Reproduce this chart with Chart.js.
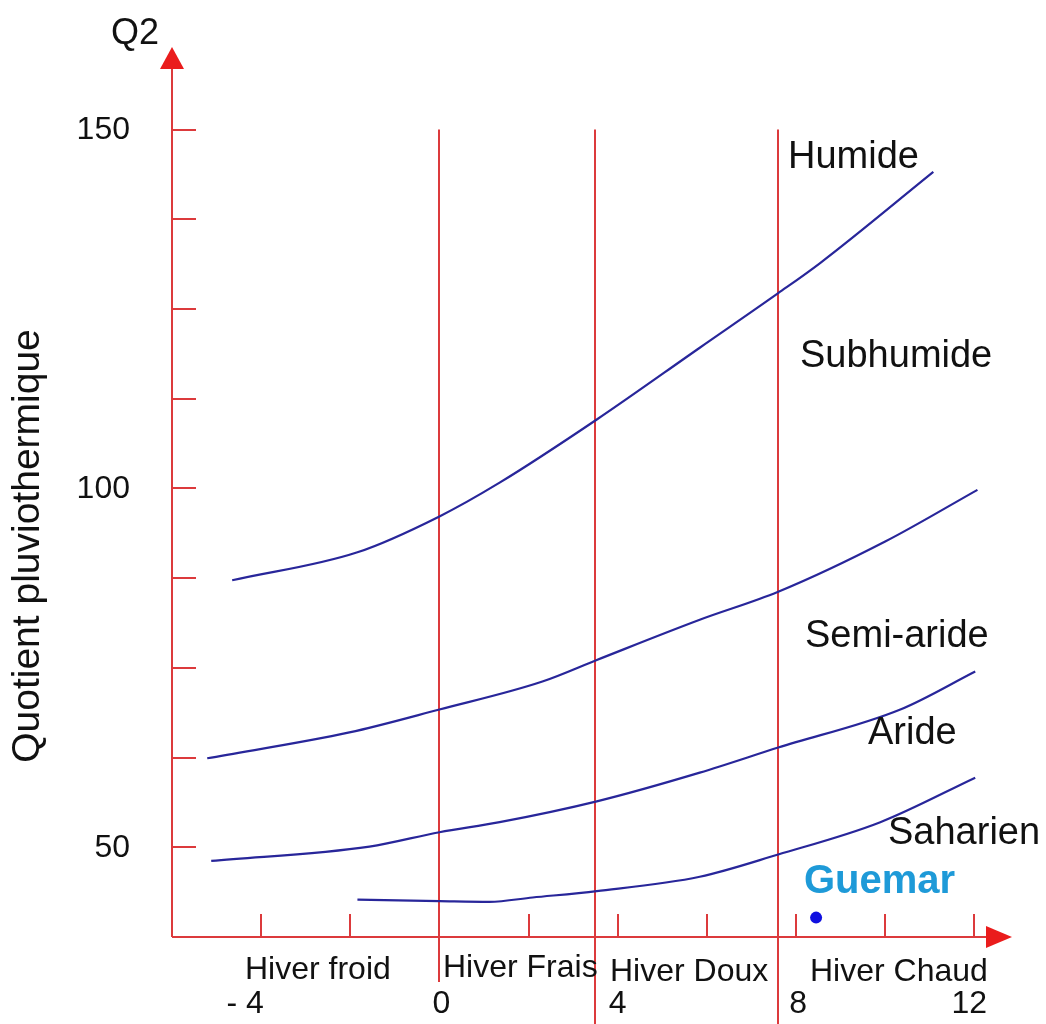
<!DOCTYPE html>
<html>
<head>
<meta charset="utf-8">
<script src="https://cdn.jsdelivr.net/npm/chart.js@4.4.1/dist/chart.umd.min.js"></script>
<style>
  html, body { margin: 0; padding: 0; background: #fff; overflow: hidden; }
  #wrap { width: 1046px; height: 1024px; position: relative; }
</style>
</head>
<body>
<div id="wrap"><canvas id="chart"></canvas></div>
<script>
// --- DATA ---
// limit curves of the Emberger climagram (x = m, winter minimum temperature; y = Q2)
const limitHumideX = [-4.65, -1.84, 0, 1.35, 3.53, 5.84, 7.6, 8.54, 11.08];
const limitHumideY = [87.2, 91.1, 96.1, 100.8, 109.6, 119.6, 127.2, 131.4, 144.1];

const limitSemiAridX = [-5.21, -2.02, 0, 2.31, 3.53, 5.84, 7.6, 10.0, 12.07];
const limitSemiAridY = [62.4, 66.0, 69.2, 73.1, 76.1, 81.7, 85.6, 92.6, 99.8];

const limitAridX = [-5.12, -1.57, 0, 1.35, 3.53, 5.84, 7.6, 10.34, 12.02];
const limitAridY = [48.1, 50.1, 52.1, 53.5, 56.4, 60.4, 63.9, 69.2, 74.5];

const limitSaharaX = [-1.84, 0, 1.12, 2.09, 3.53, 5.84, 7.6, 9.89, 12.02];
const limitSaharaY = [42.7, 42.5, 42.4, 43.0, 43.9, 45.9, 49.0, 53.5, 59.7];

const stationName = 'Guemar';
const stationM = 8.45;
const stationQ2 = 40.2;

const winterBounds = [0, 3.5, 7.6];
const winterNames = ['Hiver froid', 'Hiver Frais', 'Hiver Doux', 'Hiver Chaud'];
const zoneNames = ['Humide', 'Subhumide', 'Semi-aride', 'Aride', 'Saharien'];

const xTickValues = [-4, -2, 0, 2, 4, 6, 8, 10, 12];
const xLabelValues = [-4, 0, 4, 8, 12];
const xLabelTexts = ['- 4', '0', '4', '8', '12'];
const yTickValues = [50, 62.5, 75, 87.5, 100, 112.5, 125, 137.5, 150];
const yLabelValues = [50, 100, 150];

// --- STYLE ---
const RED = '#dc3a3c';
const ARROW = '#ea1c1c';
const BLUE = '#28269a';
const FONT = "'Liberation Sans', Arial, sans-serif";

const pts = (xs, ys) => xs.map((x, i) => ({ x, y: ys[i] }));
const curve = (label, xs, ys) => ({
  label, data: pts(xs, ys), showLine: true, borderColor: BLUE, borderWidth: 2.2,
  pointRadius: 0, cubicInterpolationMode: 'monotone', fill: false
});

// where each text sits (pixels)
const zoneLabelPos = [[788, 158], [800, 357], [805, 637], [868, 734], [888, 834]];
const winterLabelPos = [[245, 970], [443, 968], [610, 972], [810, 972]];

const axesPlugin = {
  id: 'climagram',
  beforeDatasetsDraw(chart) {
    const { ctx, chartArea: a, scales: { x, y } } = chart;
    ctx.save();
    // winter boundaries
    ctx.strokeStyle = RED;
    ctx.lineWidth = 2;
    winterBounds.forEach((b, i) => {
      const px = Math.round(x.getPixelForValue(b));
      ctx.beginPath();
      ctx.moveTo(px, y.getPixelForValue(150));
      ctx.lineTo(px, i === 0 ? a.bottom + 45 : 1024);
      ctx.stroke();
    });
    ctx.restore();
  },
  afterDatasetsDraw(chart) {
    const { ctx, chartArea: a, scales: { x, y } } = chart;
    const x0 = a.left, y0 = a.bottom;
    ctx.save();
    ctx.strokeStyle = RED;
    ctx.lineWidth = 2;
    // y axis
    ctx.beginPath();
    ctx.moveTo(x0, y0);
    ctx.lineTo(x0, a.top + 20);
    // x axis
    ctx.moveTo(x0, y0);
    ctx.lineTo(a.right - 24, y0);
    ctx.stroke();
    // ticks
    ctx.beginPath();
    yTickValues.forEach(v => {
      const py = Math.round(y.getPixelForValue(v));
      ctx.moveTo(x0, py);
      ctx.lineTo(x0 + 24, py);
    });
    xTickValues.forEach(v => {
      const px = Math.round(x.getPixelForValue(v));
      ctx.moveTo(px, y0);
      ctx.lineTo(px, y0 - 23);
    });
    ctx.stroke();
    // arrows
    ctx.fillStyle = ARROW;
    ctx.beginPath();
    ctx.moveTo(x0, a.top);
    ctx.lineTo(x0 - 12, a.top + 22);
    ctx.lineTo(x0 + 12, a.top + 22);
    ctx.closePath();
    ctx.fill();
    ctx.beginPath();
    ctx.moveTo(a.right + 2, y0);
    ctx.lineTo(a.right - 24, y0 - 11);
    ctx.lineTo(a.right - 24, y0 + 11);
    ctx.closePath();
    ctx.fill();

    // texts
    ctx.fillStyle = '#111';
    ctx.textBaseline = 'middle';
    ctx.font = `32px ${FONT}`;
    ctx.textAlign = 'right';
    yLabelValues.forEach(v => ctx.fillText(String(v), 130, y.getPixelForValue(v) + 1));
    ctx.textAlign = 'center';
    xLabelValues.forEach((v, i) => {
      let px = x.getPixelForValue(v);
      if (i === 0) px -= 16;
      if (i === xLabelValues.length - 1) px -= 5;
      if (i === 1 || i === 3) px += 2;
      ctx.fillText(xLabelTexts[i], px, 1004);
    });
    ctx.textAlign = 'left';
    winterNames.forEach((t, i) => ctx.fillText(t, winterLabelPos[i][0], winterLabelPos[i][1]));

    ctx.font = `38px ${FONT}`;
    zoneNames.forEach((t, i) => ctx.fillText(t, zoneLabelPos[i][0], zoneLabelPos[i][1]));
    ctx.font = `36px ${FONT}`;
    ctx.fillText('Q2', 111, 34);

    ctx.font = `bold 40px ${FONT}`;
    ctx.fillStyle = '#1e9ad8';
    ctx.fillText(stationName, 804, 882);

    ctx.fillStyle = '#111';
    ctx.font = `39px ${FONT}`;
    ctx.translate(28, 546);
    ctx.rotate(-Math.PI / 2);
    ctx.textAlign = 'center';
    ctx.fillText('Quotient pluviothermique', 0, 0);
    ctx.restore();
  }
};

new Chart(document.getElementById('chart'), {
  type: 'scatter',
  data: {
    datasets: [
      curve('Humide / Subhumide', limitHumideX, limitHumideY),
      curve('Subhumide / Semi-aride', limitSemiAridX, limitSemiAridY),
      curve('Semi-aride / Aride', limitAridX, limitAridY),
      curve('Aride / Saharien', limitSaharaX, limitSaharaY),
      {
        label: stationName, data: [{ x: stationM, y: stationQ2 }],
        pointRadius: 6, pointBackgroundColor: '#1010e0', pointBorderWidth: 0
      }
    ]
  },
  options: {
    responsive: true,
    maintainAspectRatio: false,
    animation: false,
    layout: { padding: { left: 172, right: 36, top: 47, bottom: 87 } },
    plugins: { legend: { display: false }, tooltip: { enabled: false }, title: { display: false } },
    scales: {
      x: { type: 'linear', min: -6, max: 12.8, display: false },
      y: { type: 'linear', min: 37.5, max: 161.5, display: false }
    }
  },
  plugins: [axesPlugin]
});
</script>
</body>
</html>
